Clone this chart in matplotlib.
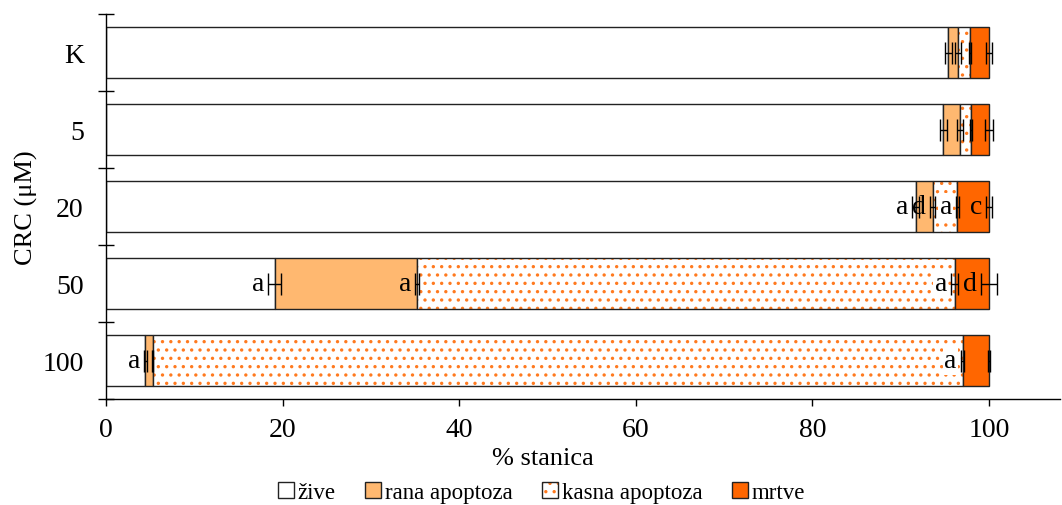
import numpy as np
import matplotlib.pyplot as plt
from matplotlib.patches import Patch
from matplotlib.legend_handler import HandlerTuple

plt.rcParams['font.family'] = ['Liberation Serif', 'DejaVu Serif']
plt.rcParams['hatch.linewidth'] = 1.2

# data (% of cells)
categories = ['K', '5', '20', '50', '100']
zive = [95.4, 94.8, 91.7, 19.1, 4.45]
rana = [1.1, 1.9, 1.9, 16.15, 0.85]
kasna = [1.35, 1.3, 2.8, 60.85, 91.7]
mrtve = [2.15, 2.0, 3.6, 3.9, 3.0]

err_zive = [0.4, 0.4, 0.4, 0.7, 0.15]
err_rana = [0.3, 0.35, 0.3, 0.2, 0.05]
err_kasna = [0.1, 0.1, 0.15, 0.4, 0.2]
err_mrtve = [0.35, 0.4, 0.3, 0.9, 0.15]

lab_zive = ['', '', 'a', 'a', 'a']
lab_rana = ['', '', 'd', 'a', '']
lab_kasna = ['', '', 'a', 'a', 'a']
lab_mrtve = ['', '', 'c', 'd', '']

c_rana = '#FFB870'
c_mrtve = '#FF6600'
c_dots = '#FF7A1F'

fig = plt.figure(figsize=(10.62, 5.06), dpi=100)
ax = fig.add_axes([0.0998, 0.209, 0.898, 0.761])

y = np.arange(len(categories))
h = 0.66
segs = [zive, rana, kasna, mrtve]
errs = [err_zive, err_rana, err_kasna, err_mrtve]
labs = [lab_zive, lab_rana, lab_kasna, lab_mrtve]

left = np.zeros(len(y))
ax.barh(y, zive, h, left=left, color='white', edgecolor='#222222', lw=1)
left += zive
ax.barh(y, rana, h, left=left, color=c_rana, edgecolor='#222222', lw=1)
left += rana
# late apoptosis: orange dots, then black outline
ax.barh(y, kasna, h, left=left, color='white', edgecolor=c_dots, lw=0, hatch='..')
ax.barh(y, kasna, h, left=left, fill=False, edgecolor='#222222', lw=1)
left += kasna
ax.barh(y, mrtve, h, left=left, color=c_mrtve, edgecolor='#222222', lw=1)

# error bars and letters at the end of each segment
cum = np.zeros(len(y))
for k, (seg, err, lab) in enumerate(zip(segs, errs, labs)):
    cum = cum + np.array(seg)
    ax.errorbar(cum, y, xerr=err, fmt='none', ecolor='black', elinewidth=1,
                capsize=8, capthick=1, zorder=5)
    for yi, xi, ei, t in zip(y, cum, err, lab):
        if t:
            bb = dict(facecolor='white', edgecolor='none', pad=1) if k == 2 else None
            ax.text(xi - ei - 0.45, yi, t, ha='right', va='center', fontsize=20,
                    zorder=6, bbox=bb)

ax.set_xlim(0, 108)
ax.set_ylim(len(y) - 0.5, -0.5)

ax.set_xticks([0, 20, 40, 60, 80, 100])
ax.tick_params(axis='x', direction='out', length=5, labelsize=20, width=1, pad=8)

ax.set_yticks(np.arange(-0.5, len(y), 1.0))
ax.set_yticklabels([])
ax.set_yticks(y, minor=True)
ax.set_yticklabels(categories, minor=True)
ax.tick_params(axis='y', which='major', direction='inout', length=11.5, width=1)
ax.tick_params(axis='y', which='minor', length=0, labelsize=20, pad=16)

for s in ['top', 'right']:
    ax.spines[s].set_visible(False)
for s in ['left', 'bottom']:
    ax.spines[s].set_linewidth(1)

ax.set_xlabel('% stanica', fontsize=19)
ax.xaxis.set_label_coords(0.458, -0.125)
ax.set_ylabel('CRC (μM)', fontsize=19)
ax.yaxis.set_label_coords(-0.071, 0.5)

# legend
h_zive = Patch(facecolor='white', edgecolor='#222222')
h_rana = Patch(facecolor=c_rana, edgecolor='#222222')
h_kasna = (Patch(facecolor='white', edgecolor=c_dots, lw=0, hatch='..'),
           Patch(fill=False, edgecolor='#222222'))
h_mrtve = Patch(facecolor=c_mrtve, edgecolor='#222222')
fig.legend([h_zive, h_rana, h_kasna, h_mrtve],
           ['žive', 'rana apoptoza', 'kasna apoptoza', 'mrtve'],
           handler_map={tuple: HandlerTuple(ndivide=1, pad=0)},
           loc='center', bbox_to_anchor=(0.51, 0.024), ncol=4, frameon=False,
           fontsize=16.5, handlelength=0.7, handleheight=0.7, handletextpad=0.15,
           columnspacing=1.3)

fig.savefig('out.png', dpi=100)
